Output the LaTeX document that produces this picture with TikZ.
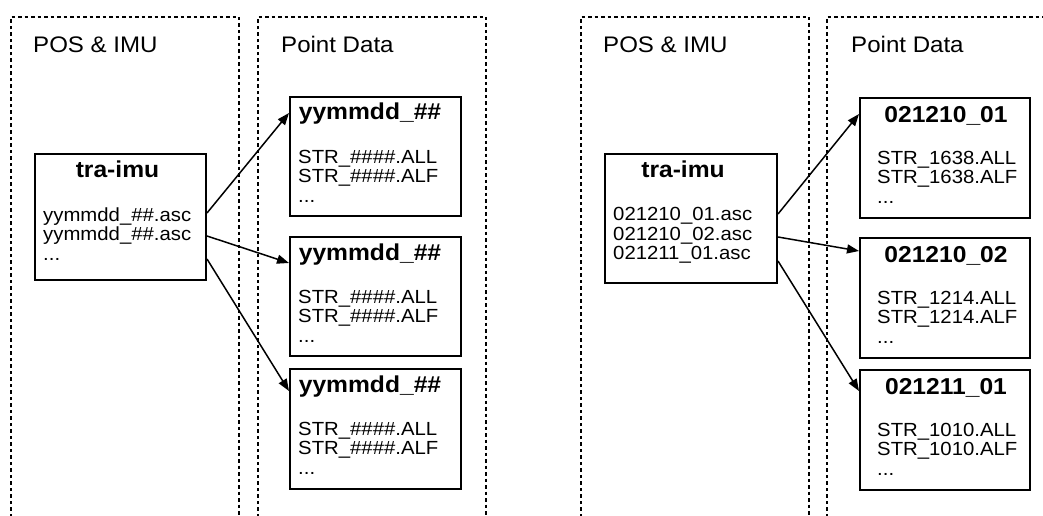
\documentclass[tikz,border=0pt]{standalone}
\usepackage{fontspec}
\setmainfont{Liberation Sans}[FakeStretch=1.07]
\usetikzlibrary{arrows.meta,calc}
\tikzset{
 panel/.style={line width=2.2pt, dash pattern=on 3.5pt off 3pt},
 filebox/.style={draw, line width=2pt, inner sep=0pt, anchor=north west},
 header/.style={font=\fontsize{22.5}{27}\selectfont, anchor=base west, inner sep=0pt},
 boxtitle/.style={font=\bfseries\fontsize{23}{27}\selectfont, anchor=base, inner sep=0pt},
 fileline/.style={font=\fontsize{19}{19}\selectfont, anchor=base west, inner sep=0pt},
 link/.style={line width=1.5pt, -{Triangle[length=12pt,width=9pt]}},
}
\begin{document}
\begin{tikzpicture}[x=1pt,y=-1pt]
\useasboundingbox (0,0) rectangle (1043,516);
\clip (0,0) rectangle (1043,516);
% ---------- dashed panels ----------
\draw[panel] (11,530) -- (11,17) -- (239,17) -- (239,530);
\draw[panel] (258,530) -- (258,17) -- (486,17) -- (486,530);
\draw[panel] (581,530) -- (581,17) -- (809,17) -- (809,530);
\draw[panel] (827,530) -- (827,17) -- (1060,17) -- (1060,530);
\node[header] (hL1) at (33,53) {POS \& IMU};
\node[header] (hL2) at (281,53) {Point Data};
\node[header] (hR1) at (603,53) {POS \& IMU};
\node[header] (hR2) at (851,53) {Point Data};
% ---------- left panel ----------
\node[filebox, minimum width=171pt, minimum height=126pt] (traL) at (34,153) {};
\node[boxtitle] (traLt) at (117.5,177) {tra-imu};
\node[fileline] (traL1) at (43,221) {yymmdd\_\#\#.asc};
\node[fileline] (traL2) at (43,240) {yymmdd\_\#\#.asc};
\node[fileline] (traL3) at (43,260) {...};

\node[filebox, minimum width=171pt, minimum height=119pt] (bL1) at (289,96) {};
\node[boxtitle] (bL1t) at (370,120) {yymmdd\_\#\#};
\node[fileline] (bL1a) at (298,163) {STR\_\#\#\#\#.ALL};
\node[fileline] (bL1b) at (298,182) {STR\_\#\#\#\#.ALF};
\node[fileline] (bL1c) at (298,202) {...};

\node[filebox, minimum width=171pt, minimum height=119pt] (bL2) at (289,236) {};
\node[boxtitle] (bL2t) at (370,260) {yymmdd\_\#\#};
\node[fileline] (bL2a) at (298,303) {STR\_\#\#\#\#.ALL};
\node[fileline] (bL2b) at (298,322) {STR\_\#\#\#\#.ALF};
\node[fileline] (bL2c) at (298,342) {...};

\node[filebox, minimum width=171pt, minimum height=120pt] (bL3) at (289,368) {};
\node[boxtitle] (bL3t) at (370,392) {yymmdd\_\#\#};
\node[fileline] (bL3a) at (298,435) {STR\_\#\#\#\#.ALL};
\node[fileline] (bL3b) at (298,454) {STR\_\#\#\#\#.ALF};
\node[fileline] (bL3c) at (298,474) {...};

\draw[link] ([yshift=4pt]traL.east) -- ([yshift=43.5pt]bL1.west);
\draw[link] ([yshift=-19pt]traL.east) -- ([yshift=33.5pt]bL2.west);
\draw[link] ([yshift=-42pt]traL.east) -- ([yshift=38pt]bL3.west);
% ---------- right panel ----------
\node[filebox, minimum width=172pt, minimum height=129pt] (traR) at (604,153) {};
\node[boxtitle] (traRt) at (683,177) {tra-imu};
\node[fileline] (traR1) at (613,220) {021210\_01.asc};
\node[fileline] (traR2) at (613,240) {021210\_02.asc};
\node[fileline] (traR3) at (613,259) {021211\_01.asc};

\node[filebox, minimum width=170pt, minimum height=120pt] (bR1) at (859,97) {};
\node[boxtitle] (bR1t) at (946,122) {021210\_01};
\node[fileline] (bR1a) at (877,164) {STR\_1638.ALL};
\node[fileline] (bR1b) at (877,183) {STR\_1638.ALF};
\node[fileline] (bR1c) at (877,203) {...};

\node[filebox, minimum width=170pt, minimum height=120pt] (bR2) at (859,237) {};
\node[boxtitle] (bR2t) at (946,262) {021210\_02};
\node[fileline] (bR2a) at (877,304) {STR\_1214.ALL};
\node[fileline] (bR2b) at (877,323) {STR\_1214.ALF};
\node[fileline] (bR2c) at (877,343) {...};

\node[filebox, minimum width=170pt, minimum height=120pt] (bR3) at (859,369) {};
\node[boxtitle] (bR3t) at (946,394) {021211\_01};
\node[fileline] (bR3a) at (877,436) {STR\_1010.ALL};
\node[fileline] (bR3b) at (877,455) {STR\_1010.ALF};
\node[fileline] (bR3c) at (877,475) {...};

\draw[link] ([yshift=4.5pt]traR.east) -- ([yshift=44pt]bR1.west);
\draw[link] ([yshift=-18.5pt]traR.east) -- ([yshift=47pt]bR2.west);
\draw[link] ([yshift=-42.5pt]traR.east) -- ([yshift=39pt]bR3.west);
\end{tikzpicture}
\end{document}
